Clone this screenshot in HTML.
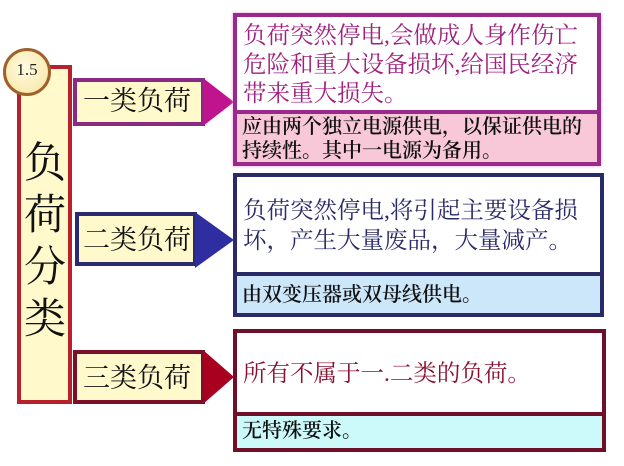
<!DOCTYPE html>
<html><head><meta charset="utf-8"><style>
body{margin:0;width:624px;height:466px;background:#fff;position:relative;overflow:hidden;font-family:"Liberation Serif","Noto Serif CJK SC",serif;}
div{position:absolute;box-sizing:border-box;}
.t{white-space:nowrap;}
</style></head><body>
<div style="left:17px;top:65px;width:55px;height:339px;border:4px solid #b8202a;background:#fff9cc;"></div>
<div class="t" style="left:24px;top:138px;width:42px;font-size:42px;line-height:52px;color:#111;text-align:center;white-space:normal;">负荷分类</div>
<div style="left:3px;top:48px;width:48px;height:48px;border-radius:50%;border:3px solid #a0602a;background:radial-gradient(circle at 45% 40%,#fffbe0,#f8e4a0);"></div>
<div class="t" style="left:3px;top:60px;width:48px;text-align:center;font-size:17px;color:#222;">1.5</div>

<div style="left:73px;top:78px;width:132px;height:48px;border:4px solid #8a2a82;background:#fff9cc;"></div>
<div class="t" style="left:83px;top:83px;font-size:27px;line-height:36px;color:#111;">一类负荷</div>
<svg style="position:absolute;left:203px;top:78px" width="32" height="48"><polygon points="0,0 31,24 0,48" fill="#c0148e"/></svg>
<div style="left:75px;top:212px;width:122px;height:54px;border:4px solid #2a2a70;background:#fff9cc;"></div>
<div class="t" style="left:83px;top:222px;font-size:27px;line-height:36px;color:#111;">二类负荷</div>
<svg style="position:absolute;left:195px;top:212px" width="40" height="56"><polygon points="0,0 39,28 0,56" fill="#2e2ea0"/></svg>
<div style="left:73px;top:350px;width:132px;height:54px;border:4px solid #7a1028;background:#fff9cc;"></div>
<div class="t" style="left:83px;top:360px;font-size:27px;line-height:36px;color:#111;">三类负荷</div>
<svg style="position:absolute;left:203px;top:350px" width="32" height="54"><polygon points="0,0 31,27 0,54" fill="#a8001e"/></svg>

<div style="left:233px;top:13px;width:368px;height:153px;border:4px solid #9a2a8a;background:#fff;box-shadow:0 0 3px #f0a0e0;"></div>
<div style="left:237px;top:110px;width:360px;height:52px;background:#f8c8d8;border-top:4px solid #9a2a8a;"></div>
<div class="t" style="left:243px;top:22px;font-size:23.5px;line-height:29px;color:#a0207f;">负荷突然停电,会做成人身作伤亡<br>危险和重大设备损坏,给国民经济<br>带来重大损失。</div>
<div class="t" style="left:242px;top:115px;font-size:20px;line-height:24px;color:#111;font-weight:600;">应由两个独立电源供电，以保证供电的<br>持续性。其中一电源为备用。</div>

<div style="left:233px;top:173px;width:371px;height:144px;border:4px solid #2a2a68;background:#fff;"></div>
<div style="left:237px;top:272px;width:363px;height:41px;background:#cce6fa;border-top:4px solid #2a2a68;"></div>
<div class="t" style="left:243px;top:196px;font-size:23.5px;line-height:30px;color:#2a2a68;">负荷突然停电,将引起主要设备损<br>坏，产生大量废品，大量减产。</div>
<div class="t" style="left:242px;top:283px;font-size:20px;line-height:24px;color:#111;font-weight:600;">由双变压器或双母线供电。</div>

<div style="left:233px;top:329px;width:373px;height:123px;border:4px solid #701028;background:#fff;"></div>
<div style="left:237px;top:412px;width:365px;height:36px;background:#ccfafa;border-top:4px solid #701028;"></div>
<div class="t" style="left:243px;top:359px;font-size:23.5px;line-height:30px;color:#8a1030;">所有不属于一.二类的负荷。</div>
<div class="t" style="left:242px;top:419px;font-size:20px;line-height:24px;color:#111;font-weight:600;">无特殊要求。</div>
</body></html>
